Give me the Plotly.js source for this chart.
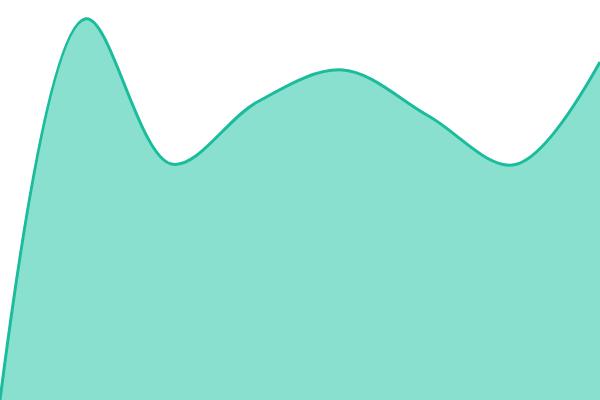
<!DOCTYPE html>
<html>
<head>
<meta charset="utf-8">
<script src="https://cdn.plot.ly/plotly-3.0.1.min.js"></script>
<style>
  html, body { margin: 0; padding: 0; background: #fff; }
  #chart { width: 600px; height: 400px; }
</style>
</head>
<body>
<div id="chart"></div>
<script>
  // one smooth filled series, eight samples
  const steps = [0, 1, 2, 3, 4, 5, 6, 7];
  const values = [0, 95.3, 59, 74.5, 82.5, 71, 58.8, 84.5];

  const trace = {
    x: steps,
    y: values,
    type: 'scatter',
    mode: 'lines',
    fill: 'tozeroy',
    fillcolor: '#89e0cf',
    line: { color: '#1abc9c', width: 3, shape: 'spline', smoothing: 1 },
    hoverinfo: 'skip'
  };

  const layout = {
    width: 600,
    height: 400,
    margin: { l: 0, r: 0, t: 0, b: 0, pad: 0 },
    paper_bgcolor: '#fff',
    plot_bgcolor: '#fff',
    showlegend: false,
    xaxis: { range: [0, 7], visible: false, fixedrange: true },
    yaxis: { range: [0, 100], visible: false, fixedrange: true }
  };

  Plotly.newPlot('chart', [trace], layout, { displayModeBar: false, staticPlot: true });
</script>
</body>
</html>
